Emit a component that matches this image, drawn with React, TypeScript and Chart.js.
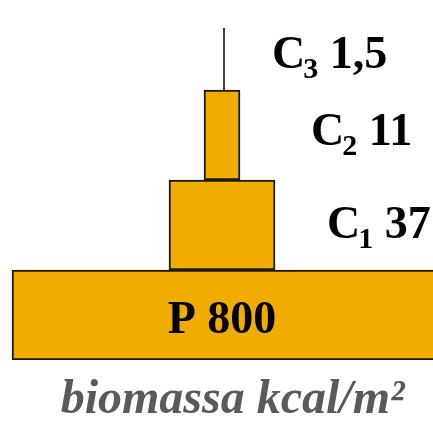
import React, { useEffect, useRef } from "react";
import { Chart, registerables } from "chart.js";

Chart.register(...registerables);

// Trophic levels, bottom to top
const levels = ["P", "C1", "C2", "C3"];
const letters = ["P", "C", "C", "C"];
const subscripts = ["", "1", "2", "3"];
const biomass = [800, 37, 11, 1.5]; // kcal/m²
// schematic horizontal extents of the pyramid bars (chart units): P, C1, C2
const pyramidStarts = [-210, -53, -18];
const pyramidEnds = [216, 53, 18];
// vertical extent of the C3 stem (chart units)
const c3Span = [2.5, 3.19];
const c3X = 2;
// label anchors in chart units
const labelX = [0, 105, 89, 50];
const labelY = [-0.2, 0.856, 1.889, 2.744];
const caption = "biomassa kcal/m²";

const FILL = "#F0AD00";
const FONT = "'Liberation Serif', 'Times New Roman', serif";

const fmt = (v: number) => String(v).replace(".", ",");

const labelPlugin = {
  id: "pyramidLabels",
  afterDatasetsDraw(chart: any) {
    const { ctx, scales } = chart;
    const xs = scales.x;
    const ys = scales.y;
    ctx.save();
    ctx.fillStyle = "#000";
    ctx.textBaseline = "alphabetic";
    ctx.textAlign = "left";
    const main = `bold 46px ${FONT}`;
    const sub = `bold 30px ${FONT}`;
    levels.forEach((_, i) => {
      const letter = letters[i];
      const s = subscripts[i];
      const val = " " + fmt(biomass[i]);
      ctx.font = main;
      const wL = ctx.measureText(letter).width;
      const wV = ctx.measureText(val).width;
      ctx.font = sub;
      const wS = s ? ctx.measureText(s).width : 0;
      const total = wL + wS + wV;
      let px = xs.getPixelForValue(labelX[i]);
      const py = ys.getPixelForValue(labelY[i]);
      if (i === 0) px -= total / 2;
      ctx.font = main;
      ctx.fillText(letter, px, py);
      px += wL;
      if (s) {
        ctx.font = sub;
        ctx.fillText(s, px - 2, py + 10);
        px += wS - 2;
      }
      ctx.font = main;
      ctx.fillText(val, px, py);
    });
    // caption
    ctx.font = `italic bold 48px ${FONT}`;
    ctx.fillStyle = "#5a5a5a";
    ctx.textAlign = "center";
    const area = chart.chartArea;
    ctx.fillText(caption, (area.left + area.right) / 2 + 16, 413);
    ctx.restore();
  },
};

export default function App() {
  const ref = useRef<HTMLCanvasElement | null>(null);
  useEffect(() => {
    if (!ref.current) return;
    const barData = pyramidStarts.map((s, i) => ({ x: [s, pyramidEnds[i]], y: i }));
    const chart = new Chart(ref.current, {
      type: "bar",
      data: {
        datasets: [
          {
            type: "bar",
            label: "biomassa",
            data: barData as any,
            backgroundColor: FILL,
            borderColor: "#1a1a1a",
            borderWidth: 2,
            borderSkipped: false,
            barPercentage: 1,
            categoryPercentage: 1,
          },
          {
            type: "line",
            label: levels[3],
            data: [
              { x: c3X, y: c3Span[0] },
              { x: c3X, y: c3Span[1] },
            ],
            borderColor: "#000",
            borderWidth: 1.5,
            pointRadius: 0,
            fill: false,
          } as any,
        ],
      },
      options: {
        indexAxis: "y",
        animation: false,
        responsive: false,
        layout: { padding: { left: 0, right: 0, top: 0, bottom: 61 } },
        plugins: { legend: { display: false }, tooltip: { enabled: false }, title: { display: false } },
        scales: {
          x: { type: "linear", min: -222, max: 211, offset: false, display: false, grid: { display: false } },
          y: {
            type: "linear",
            min: -0.5,
            max: 3.5,
            offset: false,
            display: false,
            grid: { display: false },
            afterBuildTicks: (scale: any) => {
              scale.ticks = [0, 1, 2, 3].map((v) => ({ value: v }));
            },
          },
        },
      },
      plugins: [labelPlugin],
    });
    return () => chart.destroy();
  }, []);
  return (
    <div style={{ position: "absolute", left: 0, top: 0, width: 433, height: 421, background: "#fff" }}>
      <canvas ref={ref} width={433} height={421} style={{ display: "block" }} />
    </div>
  );
}
